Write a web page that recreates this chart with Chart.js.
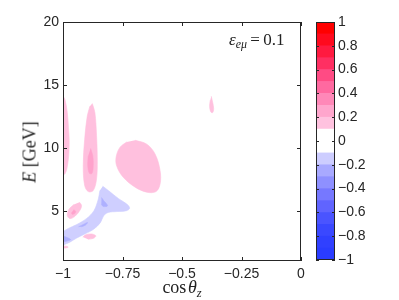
<!DOCTYPE html>
<html>
<head>
<meta charset="utf-8">
<script src="https://cdn.jsdelivr.net/npm/chart.js@4.4.0/dist/chart.umd.min.js"></script>
<style>
  html, body { margin: 0; padding: 0; background: #fff; }
  #wrap { position: relative; width: 399px; height: 300px; overflow: hidden; }
  canvas { position: absolute; top: 0; }
  .tex { position: absolute; font-family: "Liberation Serif", "DejaVu Serif", serif; color: #222; white-space: nowrap; transform: translate(-50%, -50%); }
  .tex sub { font-size: 70%; vertical-align: -0.25em; }
</style>
</head>
<body>
<div id="wrap">
  <canvas id="main" width="399" height="300" style="left:0;width:399px;height:300px"></canvas>
  <canvas id="cbar" width="83" height="300" style="left:316px;width:83px;height:300px"></canvas>
  <div class="tex" style="left:30px;top:152px;font-size:18px;transform:translate(-50%,-50%) rotate(-90deg)"><i>E</i> [GeV]</div>
  <div class="tex" style="left:182px;top:289px;font-size:18px">cos&#8202;<i>θ</i><sub><i>z</i></sub></div>
  <div class="tex" style="left:261px;top:41px;font-size:17px;transform:none;margin-top:-11px;margin-left:-32px"><i>ε</i><sub><i>eμ</i></sub>&#8201;=&#8201;0.1</div>
</div>
<script>
// axis ticks
const xTicks = [-1, -0.75, -0.5, -0.25, 0];
const eTicks = [5, 10, 15, 20];
const barTicks = [-1, -0.8, -0.6, -0.4, -0.2, 0, 0.2, 0.4, 0.6, 0.8, 1];

// colour bar: lower edge of every 0.1 band, bottom to top
const bandEdges = [-1, -0.9, -0.8, -0.7, -0.6, -0.5, -0.4, -0.3, -0.2, -0.1,
                   0, 0.1, 0.2, 0.3, 0.4, 0.5, 0.6, 0.7, 0.8, 0.9];
const bandColours = ['#2a3cff', '#3040ff', '#3a48ff', '#4a54ff', '#6064ff', '#7678ff', '#8e90ff', '#a8a9ff', '#cdcdff', '#ffffff',
                     '#ffffff', '#ffc2df', '#ffa6cd', '#ff88b8', '#ff69a0', '#ff4b84', '#ff2f62', '#ff1a40', '#ff0a1e', '#ff0000'];

// contour outlines, [cos theta_z, E in GeV]
const pinkEdge = [[-1, 14.1], [-0.992, 13.85], [-0.982, 12.8], [-0.977, 11.6], [-0.974, 10.6],
                  [-0.976, 9.4], [-0.983, 8.4], [-0.991, 7.95], [-1, 7.8]];
const pinkDrop = [[-0.877, 13.52], [-0.866, 12.79], [-0.859, 10.95], [-0.856, 9.1], [-0.859, 7.53],
                  [-0.873, 6.6], [-0.894, 6.52], [-0.909, 7.0], [-0.915, 8.58], [-0.909, 10.68],
                  [-0.898, 12.52], [-0.887, 13.31]];
const pinkDropCore = [[-0.884, 9.95], [-0.875, 9.37], [-0.873, 8.58], [-0.878, 7.97],
                      [-0.889, 7.97], [-0.896, 8.58], [-0.894, 9.37]];
const pinkOval = [[-0.697, 10.6], [-0.648, 10.29], [-0.613, 9.5], [-0.592, 8.18], [-0.592, 7.13],
                  [-0.609, 6.52], [-0.648, 6.47], [-0.697, 6.87], [-0.747, 7.66], [-0.774, 8.53],
                  [-0.777, 9.24], [-0.761, 10.03], [-0.732, 10.47]];
const pinkRight = [[-0.377, 14.1], [-0.371, 13.6], [-0.367, 13.1], [-0.371, 12.8],
                   [-0.379, 12.85], [-0.384, 13.3], [-0.381, 13.8]];
const pinkLow = [[-0.931, 5.68], [-0.922, 5.42], [-0.929, 5.03], [-0.95, 4.55], [-0.971, 4.37],
                 [-0.982, 4.63], [-0.975, 5.11], [-0.954, 5.5]];
const pinkLowCore = [[-0.955, 5.08], [-0.947, 4.95], [-0.952, 4.75], [-0.962, 4.72], [-0.964, 4.85]];
const pinkBand = [[-0.917, 2.9], [-0.905, 3.08], [-0.88, 3.15], [-0.862, 3.0], [-0.872, 2.8], [-0.895, 2.73]];
const pinkCorner = [[-1, 2.2], [-0.985, 2.17], [-0.978, 2.1], [-0.99, 2.03], [-1, 2.03]];
const blueArm = [[-0.833, 6.95], [-0.808, 6.58], [-0.766, 5.95], [-0.73, 5.5], [-0.72, 5.2],
                 [-0.733, 5.0], [-0.774, 4.93], [-0.81, 4.86], [-0.829, 4.6], [-0.843, 4.05],
                 [-0.873, 3.5], [-0.908, 3.15], [-0.942, 2.83], [-0.971, 2.5], [-0.996, 2.3],
                 [-1, 2.3], [-1, 3.25], [-0.978, 3.58], [-0.942, 3.9], [-0.902, 4.36],
                 [-0.87, 5.0], [-0.852, 5.9], [-0.845, 6.6]];
const blueCoreUp = [[-0.838, 6.05], [-0.83, 5.82], [-0.813, 5.4], [-0.83, 5.33], [-0.839, 5.5]];
const blueCoreMid = [[-0.935, 3.72], [-0.915, 3.9], [-0.897, 4.06], [-0.905, 3.86], [-0.922, 3.72]];
const blueCoreLeft = [[-1, 2.98], [-0.985, 2.88], [-0.968, 2.7], [-0.985, 2.58], [-1, 2.53]];

const LIGHT_PINK = '#ffc0de', MID_PINK = '#ffa2cc';
const LIGHT_BLUE = '#cfcfff', MID_BLUE = '#aeb0ff';
const INK = '#262626';
const TICK_FONT = { family: "'Liberation Sans', Arial, sans-serif", size: 14 };

const minus = v => String(v).replace('-', '\u2212');

function region(points, colour, order) {
    return {
        data: points.map(p => ({ x: p[0], y: p[1] })),
        showLine: true,
        fill: 'shape',
        tension: 0.35,
        backgroundColor: colour,
        borderColor: colour,
        borderWidth: 0.6,
        pointRadius: 0,
        order
    };
}

// box round the plot area with MATLAB style inward ticks
const frameTicks = {
    id: 'frameTicks',
    afterDraw(chart, args, opts) {
        const { ctx, chartArea: a } = chart;
        const len = opts.len || 4;
        ctx.save();
        ctx.strokeStyle = INK;
        ctx.lineWidth = 1;
        ctx.beginPath();
        (opts.axes || []).forEach(id => {
            const s = chart.scales[id];
            s.ticks.forEach(t => {
                const p = Math.round(s.getPixelForValue(t.value)) + 0.5;
                if (s.isHorizontal()) {
                    ctx.moveTo(p, a.bottom); ctx.lineTo(p, a.bottom - len);
                    ctx.moveTo(p, a.top); ctx.lineTo(p, a.top + len);
                } else {
                    ctx.moveTo(a.left, p); ctx.lineTo(a.left + len, p);
                    ctx.moveTo(a.right, p); ctx.lineTo(a.right - len, p);
                }
            });
        });
        ctx.stroke();
        ctx.strokeRect(Math.round(a.left) + 0.5, Math.round(a.top) + 0.5,
            Math.round(a.right - a.left) - 1, Math.round(a.bottom - a.top) - 1);
        ctx.restore();
    }
};

new Chart(document.getElementById('main'), {
    type: 'scatter',
    data: {
        datasets: [
            region(pinkEdge, LIGHT_PINK, 1),
            region(pinkDrop, LIGHT_PINK, 1),
            region(pinkOval, LIGHT_PINK, 1),
            region(pinkRight, LIGHT_PINK, 1),
            region(pinkLow, LIGHT_PINK, 1),
            region(pinkBand, LIGHT_PINK, 1),
            region(pinkCorner, LIGHT_PINK, 1),
            region(blueArm, LIGHT_BLUE, 1),
            region(pinkDropCore, MID_PINK, 0),
            region(pinkLowCore, MID_PINK, 0),
            region(blueCoreUp, MID_BLUE, 0),
            region(blueCoreMid, MID_BLUE, 0),
            region(blueCoreLeft, MID_BLUE, 0)
        ]
    },
    options: {
        responsive: false,
        animation: false,
        events: [],
        layout: { padding: { top: 22, right: 98, left: 0, bottom: 0 } },
        plugins: {
            legend: { display: false },
            tooltip: { enabled: false },
            frameTicks: { axes: ['x', 'y'], len: 4 }
        },
        scales: {
            x: {
                type: 'linear', min: -1, max: 0,
                afterBuildTicks: s => { s.ticks = xTicks.map(v => ({ value: v })); },
                afterFit: s => { s.height = 39; },
                grid: { display: false, drawTicks: false },
                border: { display: false },
                ticks: { color: INK, font: TICK_FONT, padding: 5, maxRotation: 0, callback: v => minus(v) }
            },
            y: {
                type: 'linear', min: 1, max: 20,
                afterBuildTicks: s => { s.ticks = eTicks.map(v => ({ value: v })); },
                afterFit: s => { s.width = 63; },
                grid: { display: false, drawTicks: false },
                border: { display: false },
                ticks: { color: INK, font: TICK_FONT, padding: 4, callback: v => minus(v) }
            }
        }
    },
    plugins: [frameTicks]
});

// colour bar as overlapping floating bars
new Chart(document.getElementById('cbar'), {
    type: 'bar',
    data: {
        labels: ['level'],
        datasets: bandEdges.map((lo, i) => ({
            data: [[lo, Math.round((lo + 0.1) * 10) / 10]],
            backgroundColor: bandColours[i],
            borderWidth: 0,
            barPercentage: 1,
            categoryPercentage: 1,
            grouped: false
        }))
    },
    options: {
        responsive: false,
        animation: false,
        events: [],
        layout: { padding: { top: 22, bottom: 40, left: 0, right: 0 } },
        plugins: {
            legend: { display: false },
            tooltip: { enabled: false },
            frameTicks: { axes: ['y'], len: 3 }
        },
        scales: {
            x: { display: false },
            y: {
                type: 'linear', min: -1, max: 1, position: 'right',
                afterBuildTicks: s => { s.ticks = barTicks.map(v => ({ value: v })); },
                afterFit: s => { s.width = 64; },
                grid: { display: false, drawTicks: false },
                border: { display: false },
                ticks: { color: INK, font: TICK_FONT, padding: 3, callback: v => minus(v) }
            }
        }
    },
    plugins: [frameTicks]
});
</script>
</body>
</html>
